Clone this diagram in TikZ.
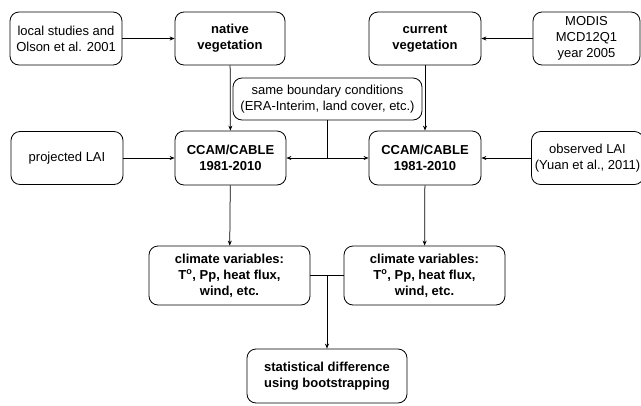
\documentclass[tikz,border=0pt]{standalone}
\usepackage{fontspec}
\setmainfont{Liberation Sans}
\usetikzlibrary{arrows.meta,calc}

\begin{document}
\begin{tikzpicture}[x=1pt,y=-1pt,
  box/.style={draw,thick,rounded corners=9pt,align=center,inner sep=1pt,
    minimum width=112pt,minimum height=53pt,font=\fontsize{13}{16}\selectfont},
  bbox/.style={box,font=\fontsize{13}{16}\selectfont\bfseries},
  arr/.style={-{Stealth[length=5pt,width=4pt]},line width=0.75pt}]
\useasboundingbox (0,0) rectangle (641,405);
% top row
\node[box] (local) at (66,38.5) {local studies and\\Olson et al. 2001};
\node[bbox,minimum width=110pt] (native) at (230,38.5) {native\\vegetation};
\node[bbox] (current) at (425,38.5) {current\\vegetation};
\node[box,minimum width=107pt] (modis) at (586.5,38.5) {MODIS\\MCD12Q1\\year 2005};
\node[box,minimum width=189pt,minimum height=42pt] (bound) at (327.5,99)
  {same boundary conditions\\(ERA-Interim, land cover, etc.)};
% model row
\node[box] (projLAI) at (67,158) {projected LAI};
\node[bbox,minimum width=111pt,minimum height=54pt] (ccamL) at (230.5,158) {CCAM/CABLE\\1981-2010};
\node[bbox,minimum width=112pt,minimum height=54pt] (ccamR) at (425,158) {CCAM/CABLE\\1981-2010};
\node[box] (obsLAI) at (587.5,158) {observed LAI\\(Yuan et al., 2011)};
% outputs
\node[bbox,minimum width=161pt,minimum height=59pt] (climL) at (229.5,275.5)
  {climate variables:\\T\textsuperscript{o}, Pp, heat flux,\\wind, etc.};
\node[bbox,minimum width=161pt,minimum height=59pt] (climR) at (424.5,275.5)
  {climate variables:\\T\textsuperscript{o}, Pp, heat flux,\\wind, etc.};
\node[bbox,minimum width=160pt,minimum height=54pt] (stat) at (327,376)
  {statistical difference\\using bootstrapping};
% connectors
\draw[arr] (local) -- (native);
\draw[arr] (modis) -- (current);
\draw[arr] (native) -- (ccamL);
\draw[arr] (current) -- (ccamR);
\draw[arr] (projLAI) -- (ccamL);
\draw[arr] (obsLAI) -- (ccamR);
\coordinate (split) at (bound.south |- ccamL.east);
\draw[line width=0.75pt] (bound) -- (split);
\draw[arr] (split) -- (ccamL);
\draw[arr] (split) -- (ccamR);
\draw[arr] (ccamL) -- (climL);
\draw[arr] (ccamR) -- (climR);
\draw[line width=0.75pt] (climL) -- (climR);
\coordinate (merge) at ($(climL.east)!0.5!(climR.west)$);
\draw[arr] (merge) -- (stat);
\end{tikzpicture}
\end{document}
